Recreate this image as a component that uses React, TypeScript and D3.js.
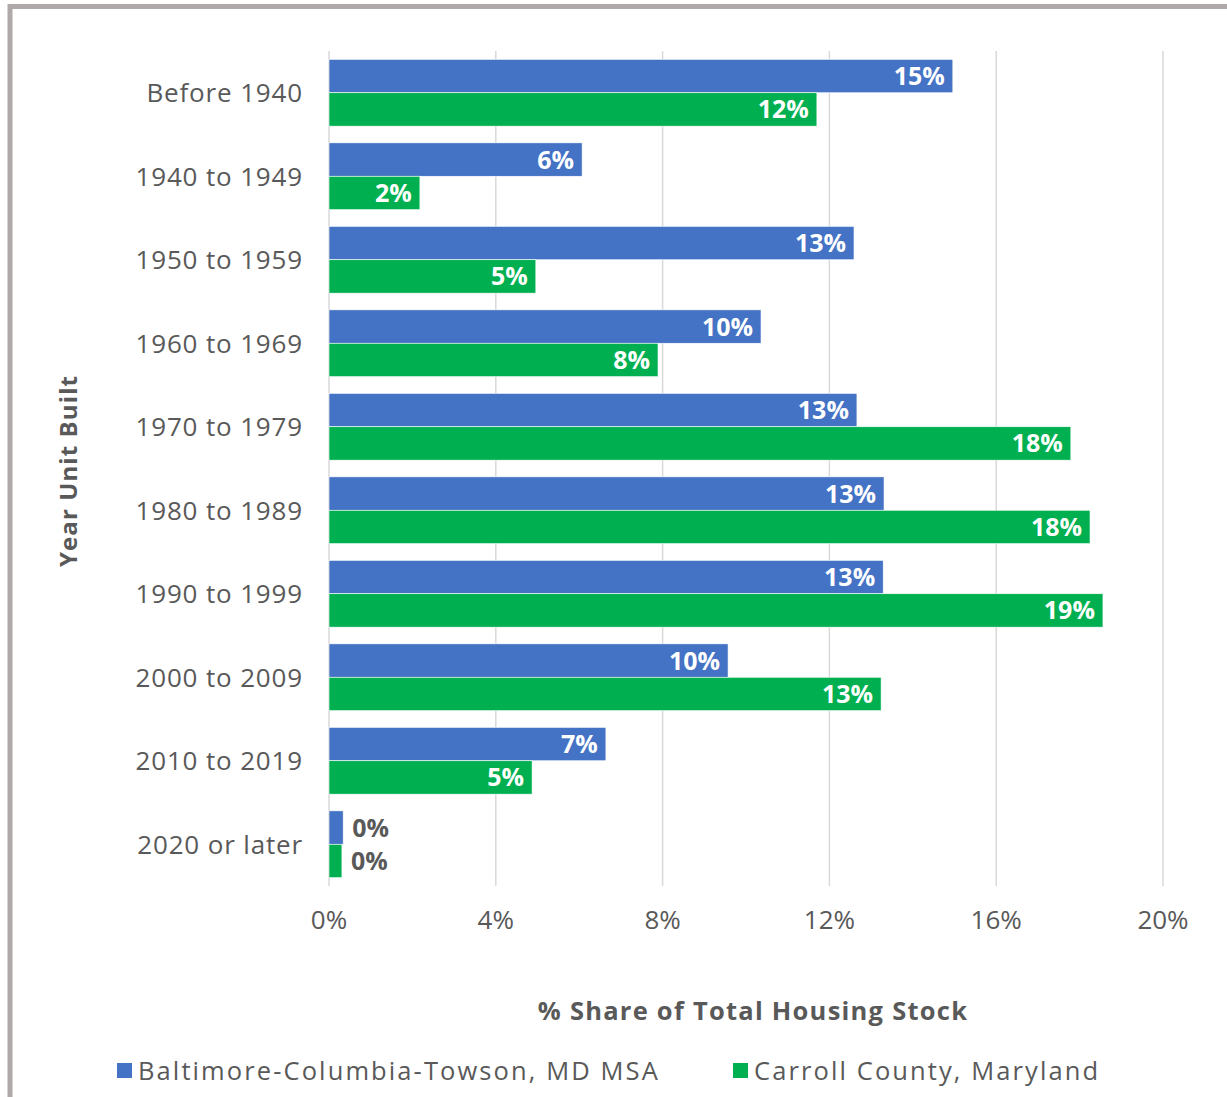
import React from 'react';
import * as d3 from 'd3';

const categories = ['Before 1940', '1940 to 1949', '1950 to 1959', '1960 to 1969', '1970 to 1979', '1980 to 1989', '1990 to 1999', '2000 to 2009', '2010 to 2019', '2020 or later'];
const seriesNames = ['Baltimore-Columbia-Towson, MD MSA', 'Carroll County, Maryland'];
const msaValues = [14.96, 6.07, 12.59, 10.36, 12.66, 13.31, 13.29, 9.57, 6.64, 0.34];
const carrollValues = [11.7, 2.18, 4.96, 7.89, 17.79, 18.25, 18.56, 13.24, 4.87, 0.31];
const xTicks = [0, 4, 8, 12, 16, 20];
const colors = ['#4472C4', '#00B050'];

const FONT = "'Open Sans', 'DejaVu Sans', sans-serif";
const GRAY = '#595959';

export default function App() {
  const W = 1227, H = 1097;
  const x = d3.scaleLinear().domain([0, 20]).range([329, 1163]);
  const y = d3.scaleBand<string>().domain(categories).range([51, 886]).paddingInner(0.2).paddingOuter(0.1);
  const sub = d3.scaleBand<number>().domain([0, 1]).range([0, y.bandwidth()]);
  const series = [msaValues, carrollValues];

  return (
    <div style={{ position: 'absolute', left: 0, top: 0 }}>
      <svg width={W} height={H} style={{ display: 'block', fontFamily: FONT }}>
        <rect x={0} y={0} width={W} height={H} fill="#fff" />
        {/* frame */}
        <line x1={10} y1={6.5} x2={W} y2={6.5} stroke="#AFAAA9" strokeWidth={5} />
        <line x1={10} y1={4} x2={10} y2={H} stroke="#AFAAA9" strokeWidth={5} />
        {/* gridlines */}
        {xTicks.map(t => (
          <line key={t} x1={x(t)} x2={x(t)} y1={51} y2={886} stroke="#D9D9D9" strokeWidth={1.5} />
        ))}
        {/* bars */}
        {categories.map((c, i) => (
          <g key={c}>
            {series.map((vals, s) => {
              const by = (y(c) as number) + (sub(s) as number);
              const bw = x(vals[i]) - x(0);
              const label = `${Math.round(vals[i])}%`;
              const inside = bw > 40;
              return (
                <g key={s}>
                  <rect x={x(0)} y={by} width={bw} height={sub.bandwidth()} fill={colors[s]} stroke="#fff" strokeWidth={0.6} />
                  <text
                    x={inside ? x(vals[i]) - 8 : x(vals[i]) + 9}
                    y={by + sub.bandwidth() / 2}
                    dy="0.36em"
                    textAnchor={inside ? 'end' : 'start'}
                    fontSize={25}
                    fontWeight="bold"
                    fill={inside ? '#fff' : GRAY}
                  >{label}</text>
                </g>
              );
            })}
            <text x={303} y={(y(c) as number) + y.bandwidth() / 2} dy="0.36em" textAnchor="end" fontSize={26} fill={GRAY} letterSpacing={0.85}>{c}</text>
          </g>
        ))}
        {/* x tick labels */}
        {xTicks.map(t => (
          <text key={t} x={x(t)} y={920} dy="0.36em" textAnchor="middle" fontSize={26} fill={GRAY}>{`${t}%`}</text>
        ))}
        {/* axis titles */}
        <text x={753} y={1011} dy="0.36em" textAnchor="middle" fontSize={25.5} fontWeight="bold" fill={GRAY} letterSpacing={1.25}>% Share of Total Housing Stock</text>
        <text transform="translate(68,471) rotate(-90)" dy="0.36em" textAnchor="middle" fontSize={24} fontWeight="bold" fill={GRAY} letterSpacing={1.1}>Year Unit Built</text>
        {/* legend */}
        {seriesNames.map((n, s) => {
          const lx = s === 0 ? 117 : 733;
          return (
            <g key={n}>
              <rect x={lx} y={1063} width={15} height={15} fill={colors[s]} />
              <text x={lx + 21} y={1071} dy="0.36em" fontSize={25.5} fill={GRAY} letterSpacing={2.1}>{n}</text>
            </g>
          );
        })}
      </svg>
    </div>
  );
}
